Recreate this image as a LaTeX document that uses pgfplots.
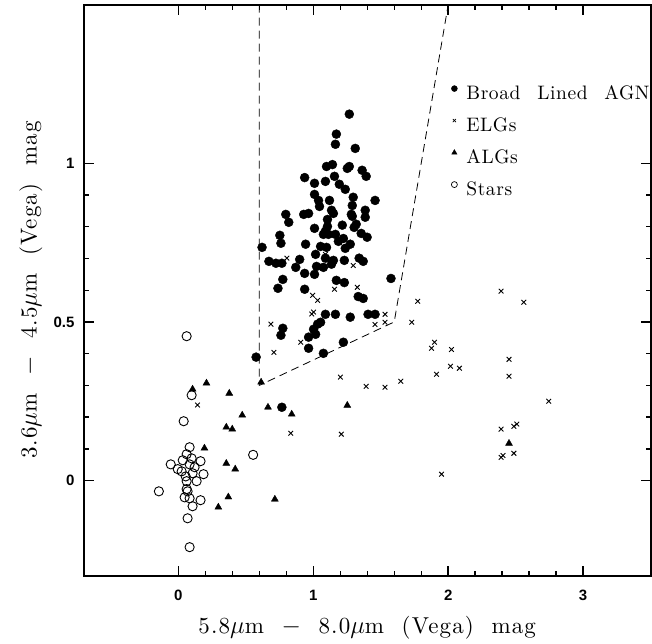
\documentclass[border=0pt]{standalone}
\usepackage{fontspec}
\setmainfont{Latin Modern Roman}
\setsansfont{Liberation Sans}
\newfontfamily\lblfont{lmroman10-regular.otf}[LetterSpace=5]
\newfontfamily\legfont{lmroman10-regular.otf}[LetterSpace=3]
\usepackage{pgfplots}
\usepackage{pgfplotstable}
\pgfplotsset{compat=1.18}

\pgfplotstableread{
x y
1.267 1.155
1.171 1.092
1.164 1.060
1.311 1.047
1.098 0.990
1.142 0.996
1.252 0.984
1.267 0.990
1.362 0.978
1.392 0.959
0.936 0.955
1.009 0.937
1.090 0.943
1.157 0.959
1.193 0.934
1.237 0.918
1.009 0.902
1.039 0.883
1.046 0.864
1.120 0.883
1.296 0.893
1.289 0.867
1.458 0.883
1.135 0.852
1.149 0.842
1.282 0.839
1.289 0.833
1.385 0.852
1.385 0.830
0.929 0.839
0.965 0.842
0.796 0.839
0.818 0.814
1.105 0.823
1.105 0.801
1.090 0.786
1.009 0.795
1.215 0.805
1.318 0.808
1.303 0.798
1.075 0.776
1.112 0.776
0.752 0.773
0.760 0.748
0.620 0.735
0.943 0.745
1.054 0.738
1.098 0.735
1.355 0.779
1.399 0.767
1.164 0.776
1.186 0.754
1.223 0.763
1.274 0.745
1.237 0.732
0.671 0.691
0.723 0.685
0.767 0.685
0.899 0.697
0.870 0.672
1.017 0.713
1.090 0.701
1.149 0.694
1.135 0.682
1.230 0.694
1.340 0.701
1.370 0.691
1.024 0.675
1.075 0.672
1.009 0.650
0.936 0.653
0.774 0.634
0.738 0.606
1.171 0.631
1.230 0.624
0.936 0.603
1.576 0.637
1.333 0.580
1.370 0.574
1.090 0.524
1.164 0.524
1.274 0.515
1.406 0.524
1.458 0.524
0.774 0.480
0.760 0.458
1.054 0.499
1.032 0.493
1.002 0.477
1.017 0.461
0.965 0.452
0.965 0.417
1.075 0.401
1.223 0.436
0.576 0.389
0.767 0.231
}\agn

\pgfplotstableread{
x y
0.804 0.701
1.090 0.713
1.296 0.678
1.157 0.603
1.326 0.609
0.995 0.584
1.032 0.568
0.988 0.525
1.002 0.531
0.686 0.493
1.458 0.492
1.532 0.499
1.532 0.524
0.907 0.436
0.708 0.404
1.774 0.565
1.730 0.499
1.201 0.326
1.392 0.297
1.532 0.294
1.649 0.313
0.833 0.149
1.208 0.146
2.392 0.597
2.561 0.562
1.899 0.436
1.877 0.417
2.024 0.413
2.017 0.360
2.083 0.354
1.914 0.335
2.451 0.382
2.451 0.329
2.745 0.250
2.392 0.162
2.487 0.171
2.509 0.178
2.392 0.073
2.407 0.079
2.487 0.086
1.951 0.020
0.142 0.238
}\elg

\pgfplotstableread{
x y
0.105 0.288
0.208 0.307
0.377 0.275
0.613 0.310
0.664 0.231
0.840 0.209
0.473 0.206
0.355 0.168
0.399 0.162
1.252 0.237
0.193 0.102
0.355 0.054
0.421 0.036
0.370 -0.052
0.296 -0.084
0.715 -0.059
2.451 0.117
}\alg

\pgfplotstableread{
x y
0.061 0.455
0.098 0.269
0.039 0.187
0.083 0.105
0.061 0.083
-0.057 0.051
-0.005 0.036
0.032 0.064
0.098 0.070
0.164 0.061
0.083 0.051
0.105 0.023
0.186 0.020
0.061 -0.002
0.135 -0.002
0.061 -0.027
0.068 -0.034
0.046 -0.053
0.083 -0.056
0.164 -0.062
0.105 -0.081
-0.145 -0.034
0.068 -0.119
0.083 -0.210
0.554 0.081
0.024 0.029
0.120 0.042
0.054 0.013
}\stars

\begin{document}
\begin{tikzpicture}
\useasboundingbox (-84pt,-67.3pt) rectangle (568pt,575.7pt);
\begin{axis}[
  at={(0,0)}, anchor=south west,
  scale only axis, width=566.5pt, height=571pt,
  xmin=-0.7, xmax=3.5, ymin=-0.3, ymax=1.5,
  xtick={0,1,2,3}, ytick={0,0.5,1},
  minor x tick num=4, minor y tick num=4,
  tick align=inside,
  major tick length=10pt, minor tick length=5pt,
  every tick/.style={black, line width=1.4pt},
  axis line style={line width=2pt},
  /pgf/number format/assume math mode=true,
  tick label style={font=\sffamily\bfseries\fontsize{15}{15}\selectfont},
  xticklabel style={yshift=-11pt},
  yticklabel style={xshift=-6pt},
  xlabel={5.8$\mu$m\ \ $-$\ \ 8.0$\mu$m\ \ (Vega)\ \ mag},
  ylabel={3.6$\mu$m\ \ $-$\ \ 4.5$\mu$m\ \ (Vega)\ \ mag},
  label style={font=\lblfont\fontsize{23}{24}\selectfont},
  xlabel style={at={(axis description cs:0.5,-0.0916)}, anchor=center},
  ylabel style={at={(axis description cs:-0.0936,0.5)}, anchor=center},
  legend style={at={(axis cs:2.0,1.275)}, anchor=north west, draw=none, fill=none,
    font=\legfont\fontsize{19.5}{21}\selectfont,
    nodes={text height=14pt, text depth=4pt, inner ysep=7pt, inner xsep=4pt},
    column sep=5pt, row sep=0pt},
  legend cell align=left,
  legend image code/.code={\draw[#1] plot coordinates {(0.1cm,0.2cm)};},
]
\addlegendimage{only marks, mark=*, mark size=3pt, black}
\addlegendimage{only marks, mark=x, mark size=2.2pt, black, line width=0.7pt}
\addlegendimage{only marks, mark=triangle*, mark size=3pt, black}
\addlegendimage{only marks, mark=o, mark size=3pt, black, line width=0.7pt}
\addplot[forget plot, black, line width=0.8pt, dash pattern=on 8pt off 5pt] coordinates {(0.6,1.5) (0.6,0.3) (1.6,0.5) (2.0,1.5)};
\addplot[forget plot, only marks, mark=o, mark size=4.6pt, line width=0.9pt, black] table {\stars};
\addplot[forget plot, only marks, mark=triangle*, mark size=4pt, black] table {\alg};
\addplot[forget plot, only marks, mark=x, mark size=3.3pt, line width=0.9pt, black] table {\elg};
\addplot[forget plot, only marks, mark=*, mark size=4.5pt, black] table {\agn};
\legend{Broad\hspace{0.5em}\ Lined\hspace{0.5em}\ AGN, ELGs, ALGs, Stars}
\end{axis}
\end{tikzpicture}
\end{document}
